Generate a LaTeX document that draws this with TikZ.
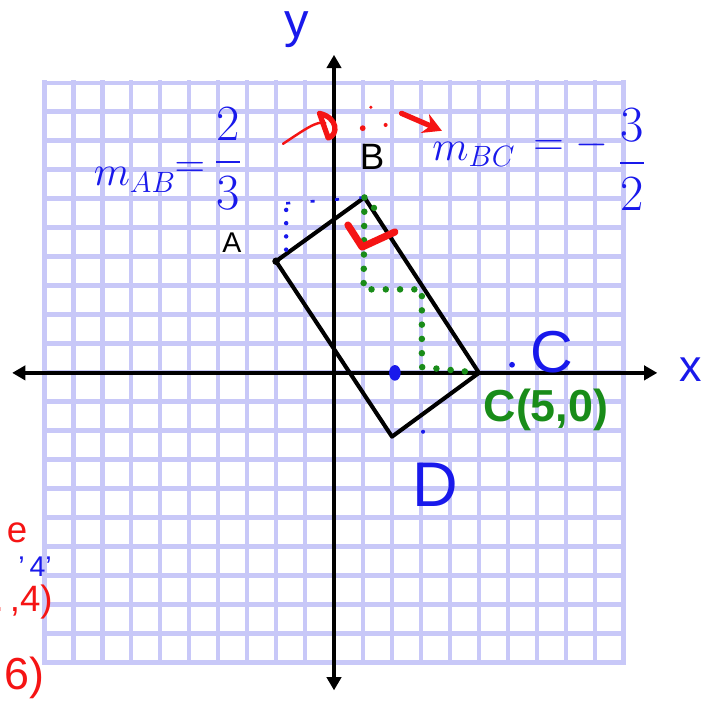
\documentclass[tikz,border=0pt]{standalone}
\usepackage{amsmath}
\usepackage{fontspec}
\setsansfont{Liberation Sans}
\usetikzlibrary{arrows.meta}
\definecolor{gridblue}{RGB}{200,200,248}
\definecolor{penblue}{RGB}{25,25,235}
\definecolor{pengreen}{RGB}{25,140,25}
\definecolor{penred}{RGB}{245,20,20}
\begin{document}
\begin{tikzpicture}[x=0.5cm,y=0.5cm,every node/.style={font=\sffamily,inner sep=0pt},
  ink/.style={line width=2pt,line cap=round,line join=round},
  axis/.style={line width=2pt,{Triangle[length=6.5pt,width=7pt]}-{Triangle[length=6.5pt,width=7pt]}},
  greendots/.style={pengreen,line width=3.2pt,line cap=round,dash pattern=on 0pt off 7pt},
  bluedots/.style={penblue,line width=2.2pt,line cap=round,dash pattern=on 0pt off 6.5pt}]
\useasboundingbox (-11.52,-11.59) rectangle (13.14,12.86);
\fill[white] (-11.52,-11.59) rectangle (13.14,12.86);
% grid paper
\draw[gridblue,line width=2.4pt,line cap=rect,step=0.5cm] (-10,-10) grid (10,10);
% axes
\coordinate (xl) at (-11.1,0);
\coordinate (xr) at (11.15,0);
\coordinate (yb) at (0,-10.95);
\coordinate (yt) at (0,10.97);
\draw[axis] (xl) -- (xr);
\draw[axis] (yb) -- (yt);
\node[penblue,font=\sffamily\fontsize{24}{24}\selectfont] (ylbl) at (-1.28,11.83) {y};
\node[penblue,font=\sffamily\fontsize{22}{22}\selectfont] (xlbl) at (12.3,0.1) {x};
% rectangle ABCD
\coordinate (A) at (-2,3.85);
\coordinate (B) at (1.05,6.05);
\coordinate (C) at (5,0);
\coordinate (D) at (2,-2.2);
\draw[ink] (A) -- (B) -- (C) -- (D) -- cycle;
\fill (A) circle (0.13);
\node[font=\sffamily\fontsize{14}{14}\selectfont] (lblA) at (-3.52,4.48) {A};
\node[font=\sffamily\fontsize{18}{18}\selectfont] (lblB) at (1.31,7.45) {B};
\node[penblue,font=\sffamily\fontsize{29}{29}\selectfont] (lblC) at (7.52,0.72) {C};
\node[penblue,font=\sffamily\fontsize{31}{31}\selectfont] (lblD) at (3.48,-3.86) {D};
\node[pengreen,font=\sffamily\bfseries\fontsize{22}{22}\selectfont] (lblC2) at (7.31,-1.28) {C(5,0)};
% rise and run
\coordinate (b1) at (-1.65,4.25);
\coordinate (b2) at (-1.65,5.85);
\draw[bluedots] (b1) -- (b2);
\draw[penblue,line width=1.3pt,dash pattern=on 2pt off 10pt] (b2) -- (B);
\coordinate (g1) at (1.02,2.88);
\coordinate (g2) at (3.03,2.88);
\coordinate (g3) at (3.03,0.2);
\draw[greendots] (B) -- (g1) -- (g2) -- (g3) -- (C);
\fill[pengreen] (1.38,5.69) circle (0.11);
\fill[penblue] (2.1,0) ellipse (0.2 and 0.27);
\fill[penblue] (6.14,0.28) circle (0.1);
\fill[penblue] (3.07,-2.03) circle (0.07);
% right angle at B
\draw[penred,line width=3.5pt,line cap=round,line join=round] (0.48,5.1) -- (0.97,4.34) -- (2.1,4.86);
% slopes
\node[penblue,anchor=base west,font=\fontsize{20}{20}\selectfont] (mab) at (-8.3,6.45) {$m_{AB}$};
\node[penblue,font=\fontsize{20}{20}\selectfont] (eqab) at (-4.97,7.0) {$=$};
\node[penblue,font=\fontsize{24}{24}\selectfont] (fab) at (-3.66,7.38) {$\dfrac{2}{3}$};
\node[penblue,anchor=base west,font=\fontsize{20}{20}\selectfont] (mbc) at (3.38,7.34) {$m_{BC}$};
\node[penblue,font=\fontsize{20}{20}\selectfont] (eqbc) at (8.17,7.86) {$=-$};
\node[penblue,font=\fontsize{24}{24}\selectfont] (fbc) at (10.28,7.34) {$\dfrac{3}{2}$};
% negative reciprocal
\draw[penred,line width=1.2pt,line cap=round] (-1.76,7.9) .. controls (-1.0,8.4) and (-0.6,8.7) .. (-0.3,8.62);
\draw[penred,line width=2.6pt,line cap=round,line join=round] (-0.5,8.95) -- (-0.2,8.1) .. controls (0.15,8.2) and (0.15,8.8) .. (-0.5,8.95);
\fill[penred] (1.27,9.16) circle (0.06);
\fill[penred] (0.99,8.44) circle (0.1);
\fill[penred] (1.78,8.55) circle (0.07);
\coordinate (r1) at (2.33,8.95);
\coordinate (r2) at (3.72,8.35);
\draw[penred,line width=2.6pt,line cap=round,-{Stealth[length=9pt,width=10pt]}] (r1) -- (r2);
% cut-off notes at left
\node[penred,font=\sffamily\fontsize{18}{18}\selectfont] (n1) at (-10.93,-5.52) {e};
\node[penblue,anchor=east,font=\sffamily\fontsize{14}{14}\selectfont] (n2) at (-9.72,-6.7) {'\,4'};
\node[penred,anchor=east,font=\sffamily\fontsize{18}{18}\selectfont] (n3) at (-9.69,-7.9) {.\,,4)};
\node[penred,anchor=east,font=\sffamily\fontsize{22}{22}\selectfont] (n4) at (-9.97,-10.52) {6)};
\end{tikzpicture}
\end{document}
